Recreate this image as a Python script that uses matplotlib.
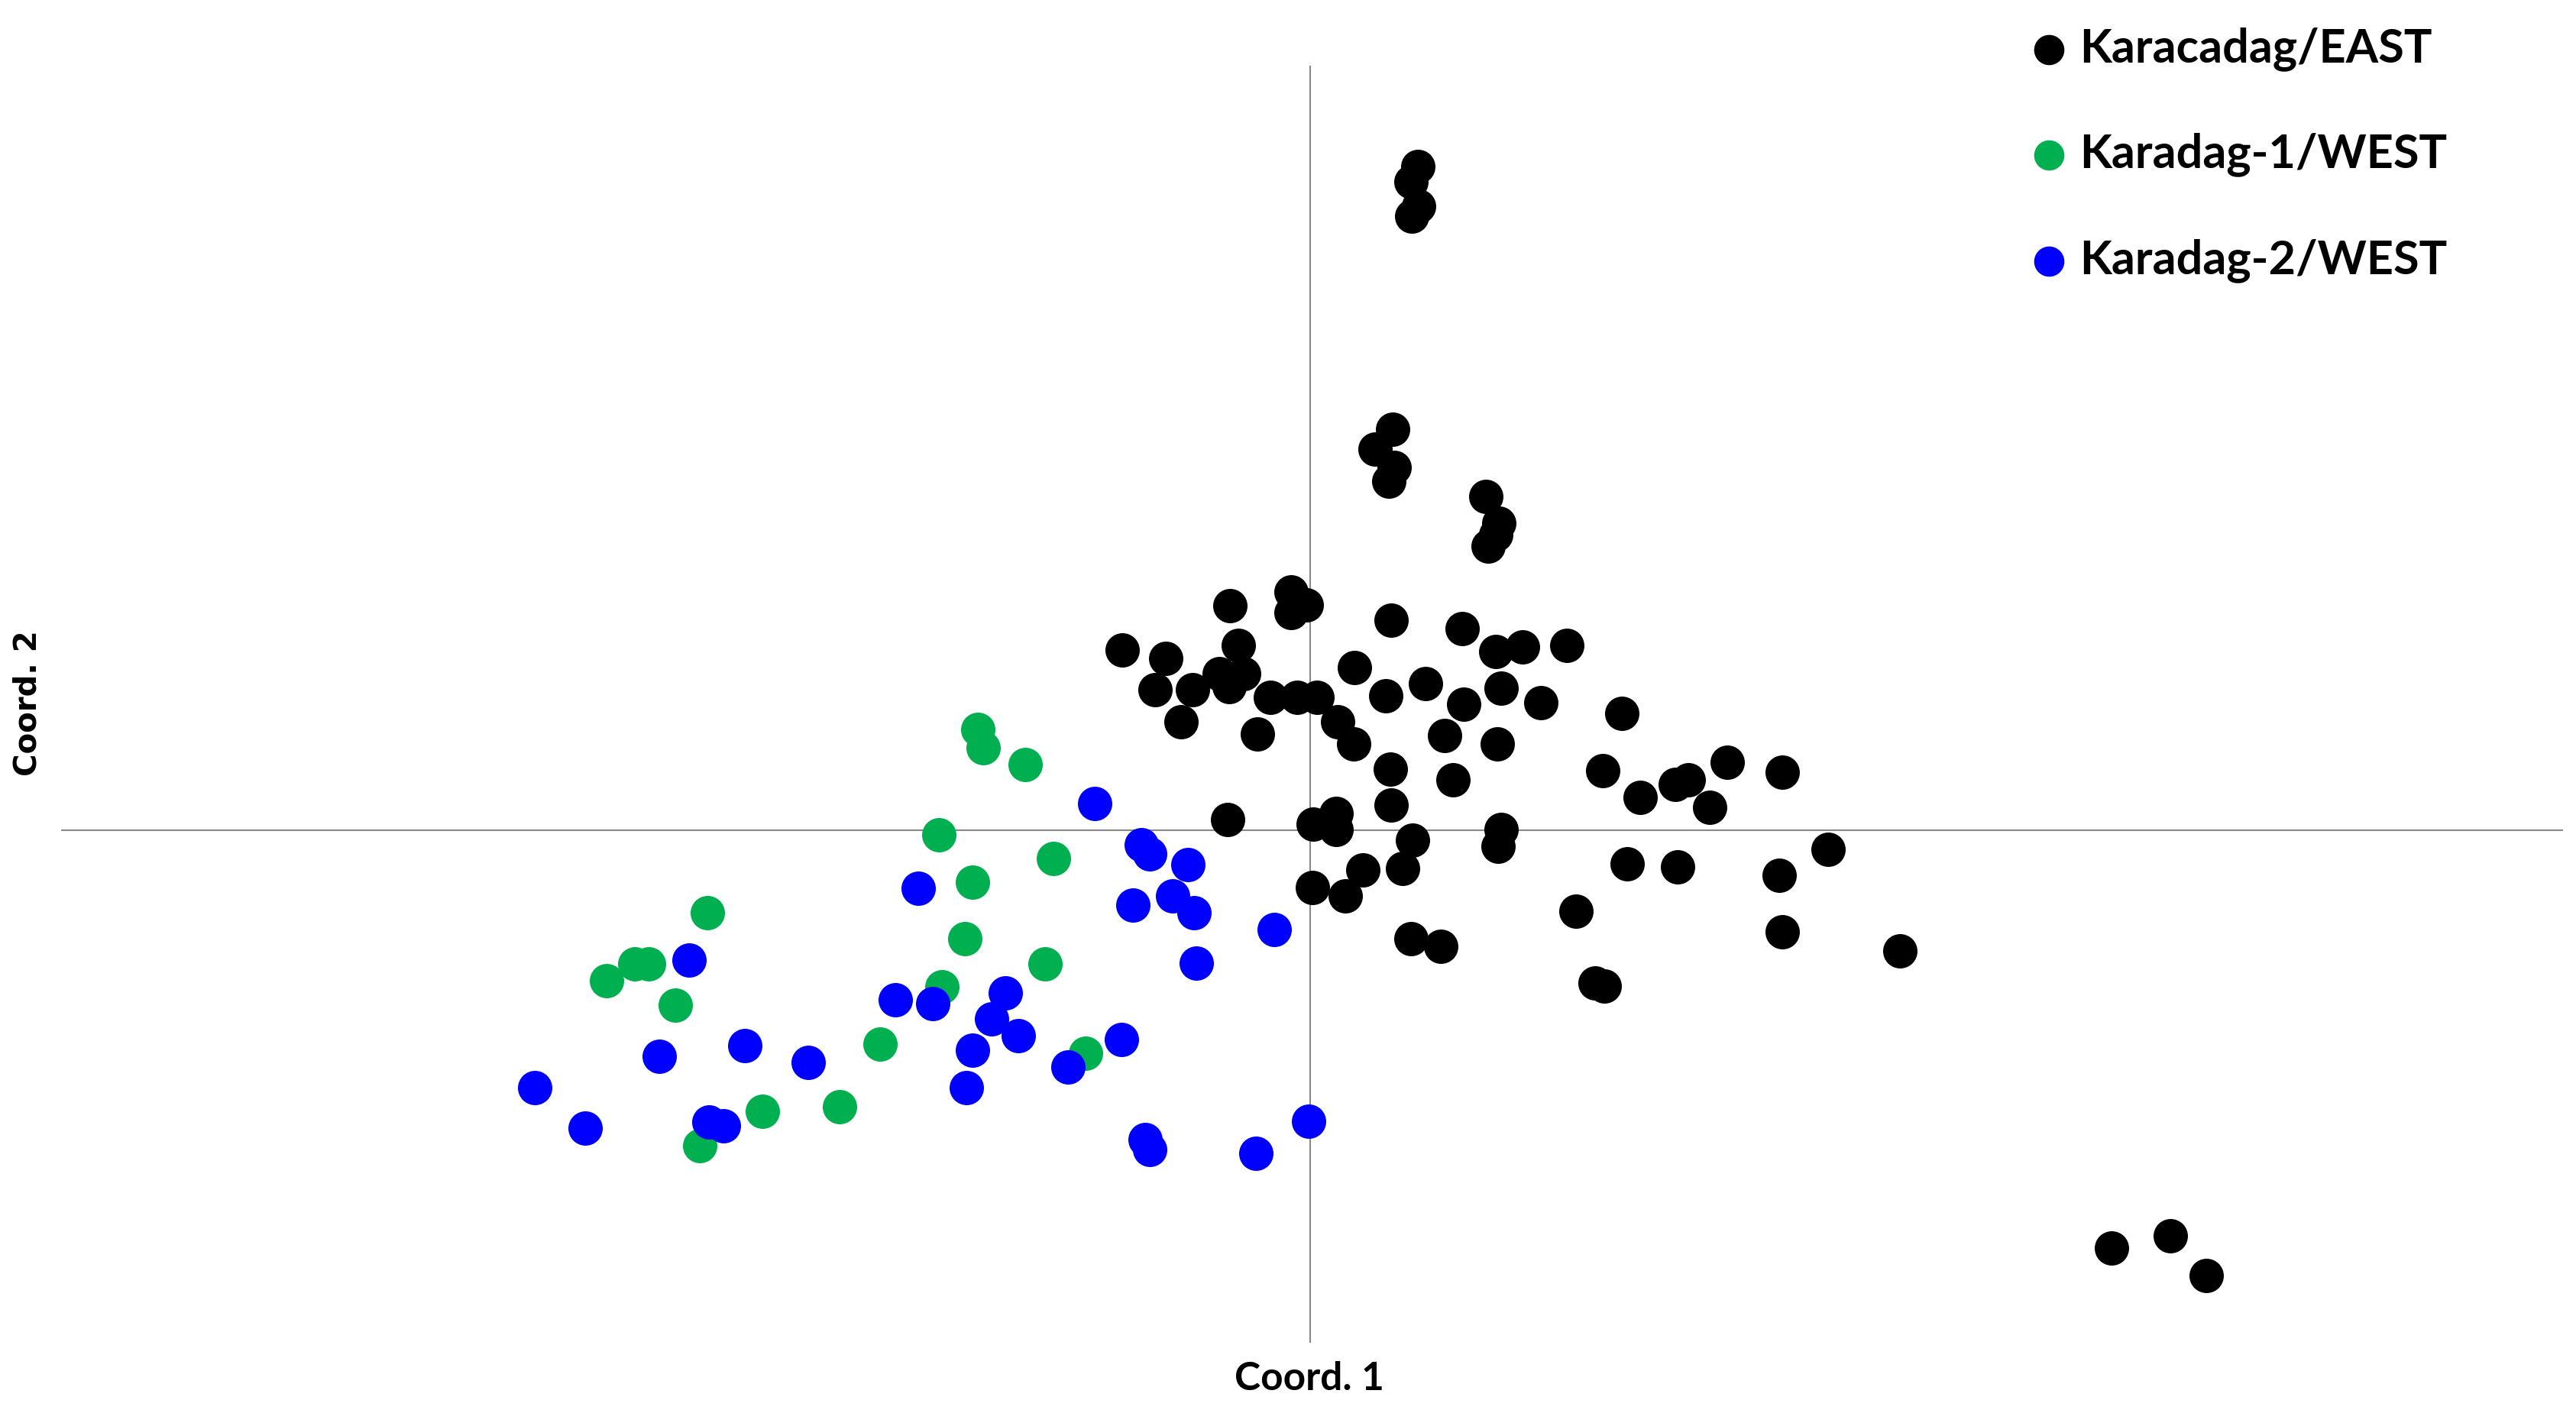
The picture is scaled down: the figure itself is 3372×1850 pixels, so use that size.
import matplotlib
matplotlib.use('Agg')
import matplotlib.pyplot as plt

# PCoA scores (arbitrary units)
east_x = [0.141, 0.132, 0.142, 0.133, 0.108, 0.085, 0.110, 0.103, 0.230, 0.247, 0.243, 0.233,
          -0.025, -0.005, -0.025, -0.105, 0.106, 0.199, -0.246, -0.189, -0.094, -0.119, -0.106, -0.087,
          -0.203, -0.154, -0.169, -0.069, -0.052, -0.017, 0.009, 0.036, 0.057, 0.058, 0.099, 0.151,
          0.201, 0.243, 0.278, 0.336, 0.250, 0.302, 0.408, 0.176, 0.245, 0.105, 0.187, 0.383,
          0.432, 0.478, 0.495, 0.523, 0.546, 0.618, -0.108, 0.004, 0.034, 0.034, 0.106, 0.250,
          0.246, 0.134, 0.121, 0.069, 0.003, 0.046, 0.415, 0.481, 0.678, 0.614, 0.348, 0.132,
          0.171, 0.618, 0.772, 0.373, 0.385, 1.049, 1.126, 1.173]
east_y = [0.869, 0.849, 0.817, 0.804, 0.525, 0.499, 0.475, 0.457, 0.437, 0.402, 0.387, 0.372,
          0.312, 0.295, 0.285, 0.294, 0.275, 0.264, 0.236, 0.225, 0.242, 0.205, 0.188, 0.205,
          0.184, 0.184, 0.142, 0.126, 0.174, 0.174, 0.174, 0.142, 0.113, 0.213, 0.176, 0.192,
          0.165, 0.234, 0.240, 0.242, 0.186, 0.167, 0.153, 0.124, 0.113, 0.080, 0.066, 0.078,
          0.043, 0.060, 0.066, 0.030, 0.089, 0.076, 0.014, 0.008, 0.022, 0.001, 0.033, 0.001,
          -0.021, -0.013, -0.050, -0.052, -0.075, -0.086, -0.044, -0.048, -0.025, -0.059, -0.106, -0.142,
          -0.152, -0.133, -0.158, -0.200, -0.204, -0.547, -0.531, -0.583]

west1_x = [-0.435, -0.428, -0.373, -0.486, -0.336, -0.442, -0.789, -0.452, -0.347, -0.884,
           -0.866, -0.921, -0.831, -0.482, -0.563, -0.294, -0.717, -0.616, -0.799]
west1_y = [0.132, 0.108, 0.086, -0.006, -0.037, -0.068, -0.108, -0.142, -0.175, -0.175,
           -0.175, -0.197, -0.229, -0.205, -0.280, -0.292, -0.368, -0.362, -0.413]

west2_x = [-0.282, -0.221, -0.210, -0.160, -0.513, -0.232, -0.180, -0.152, -0.047, -0.813,
           -0.149, -0.543, -0.494, -0.399, -0.417, -0.382, -0.442, -0.852, -0.740, -0.657,
           -0.317, -0.247, -1.015, -0.450, -0.949, -0.787, -0.768, -0.216, -0.210, -0.071, -0.002]
west2_y = [0.035, -0.019, -0.031, -0.045, -0.076, -0.098, -0.086, -0.108, -0.130, -0.170,
           -0.174, -0.222, -0.227, -0.213, -0.247, -0.269, -0.288, -0.296, -0.282, -0.304,
           -0.310, -0.274, -0.337, -0.337, -0.390, -0.382, -0.387, -0.405, -0.418, -0.423, -0.381]

labels = ['Karacadag/EAST', 'Karadag-1/WEST', 'Karadag-2/WEST']
colors = ['#000000', '#00B050', '#0000FF']

fig = plt.figure(figsize=(33.72, 18.5), dpi=100)
ax = fig.add_axes([80/3372, 1-1758/1850, (3355-80)/3372, (1758-86)/1850])

ms = 1050
h1 = ax.scatter(east_x, east_y, s=ms, c=colors[0], linewidths=0, label=labels[0], zorder=3, clip_on=False)
h2 = ax.scatter(west1_x, west1_y, s=ms, c=colors[1], linewidths=0, label=labels[1], zorder=4, clip_on=False)
h3 = ax.scatter(west2_x, west2_y, s=ms, c=colors[2], linewidths=0, label=labels[2], zorder=5, clip_on=False)

ax.set_xlim(-1.635, 1.640)
ax.set_ylim(-0.671, 1.001)
ax.axhline(0, color='#888888', lw=1.5, zorder=1)
ax.axvline(0, color='#888888', lw=1.5, zorder=1)
for sp in ax.spines.values():
    sp.set_visible(False)
ax.set_xticks([])
ax.set_yticks([])

fig.text(1714/3372, 1-1806/1850, 'Coord. 1', ha='center', va='center',
         fontsize=37, fontweight='bold', family='Lato')
fig.text(37/3372, 1-921/1850, 'Coord. 2', ha='center', va='center', rotation=90,
         fontsize=29, fontweight='bold', family='DejaVu Sans')

leg = fig.legend(handles=[h1, h2, h3], labels=labels, loc='upper left',
                 bbox_to_anchor=(2661/3372, 1-35/1850), frameon=False,
                 prop={'family': 'Lato', 'weight': 'bold', 'size': 44},
                 handlelength=0.7, handletextpad=0.3, borderpad=0, borderaxespad=0,
                 labelspacing=1.32, scatterpoints=1, markerscale=0.88)

fig.savefig('out.png', dpi=100)
